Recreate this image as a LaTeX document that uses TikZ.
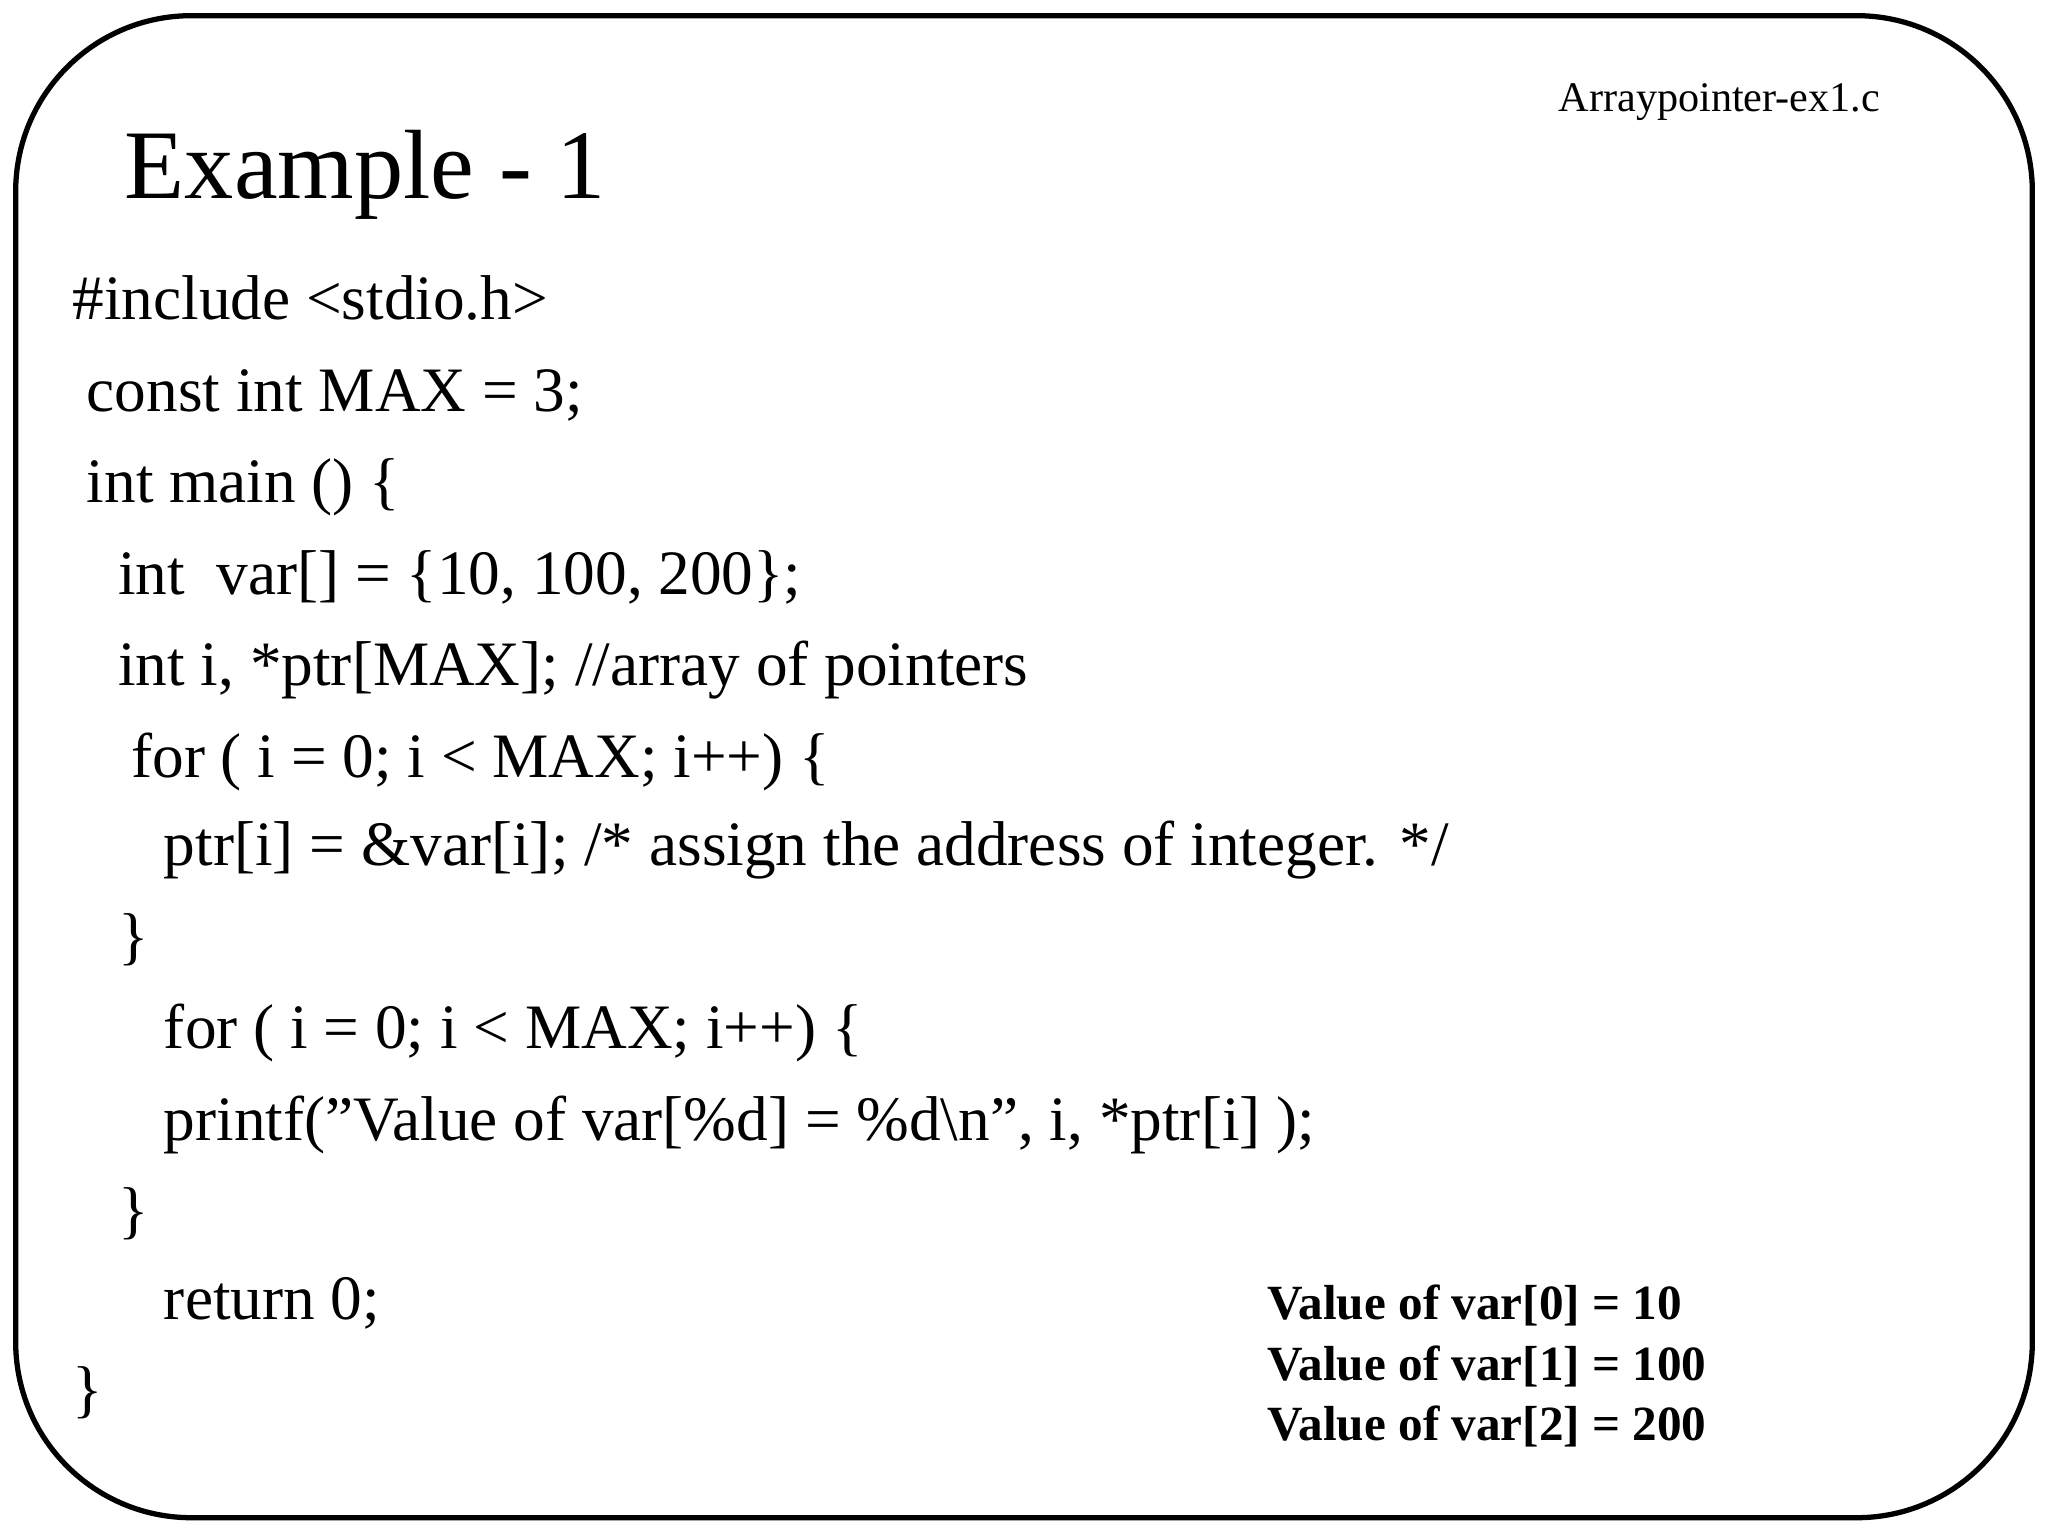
\documentclass[tikz,border=0pt]{standalone}
\usepackage{fontspec}
\setmainfont{Liberation Serif}
\begin{document}
\begin{tikzpicture}[x=0.01306cm,y=-0.01306cm,
 code/.style={anchor=base west,inner sep=0pt,font=\fontsize{18}{20}\selectfont},
 outline/.style={anchor=base west,inner sep=0pt,font=\fontsize{14}{16}\selectfont\bfseries}]
\useasboundingbox (0,0) rectangle (1568,1176);
\fill[white] (0,0) rectangle (1568,1176);
\draw[line width=1.5pt,rounded corners=50] (12,12) rectangle (1556,1162);
\node[anchor=base west,inner sep=0pt,font=\fontsize{12}{14}\selectfont] (fn) at (1193,85) {Arraypointer-ex1.c};
\node[anchor=base west,inner sep=0pt,font=\fontsize{28}{30}\selectfont] (title) at (95,152) {Example - 1};
\node[code] (l1) at (55,245) {\#include <stdio.h>};
\node[code] (l2) at (66,315) {const int MAX = 3;};
\node[code] (l3) at (66,385) {int main () \{};
\node[code] (l4) at (90,455) {int\ \ var[] = \{10, 100, 200\};};
\node[code] (l5) at (90,525) {int i, *ptr[MAX]; //array of pointers};
\node[code] (l6) at (100,595) {for ( i = 0; i < MAX; i++) \{};
\node[code] (l7) at (125,663) {ptr[i] = \&var[i]; /* assign the address of integer. */};
\node[code] (l8) at (90,733) {\}};
\node[code] (l9) at (125,803) {for ( i = 0; i < MAX; i++) \{};
\node[code] (l10) at (125,873) {printf("Value of var[\%d] = \%d\textbackslash n", i, *ptr[i] );};
\node[code] (l11) at (90,943) {\}};
\node[code] (l12) at (125,1010) {return 0;};
\node[code] (l13) at (55,1080) {\}};
\node[outline] (o1) at (970,1010) {Value of var[0] = 10};
\node[outline] (o2) at (970,1057) {Value of var[1] = 100};
\node[outline] (o3) at (970,1103) {Value of var[2] = 200};
\end{tikzpicture}
\end{document}
